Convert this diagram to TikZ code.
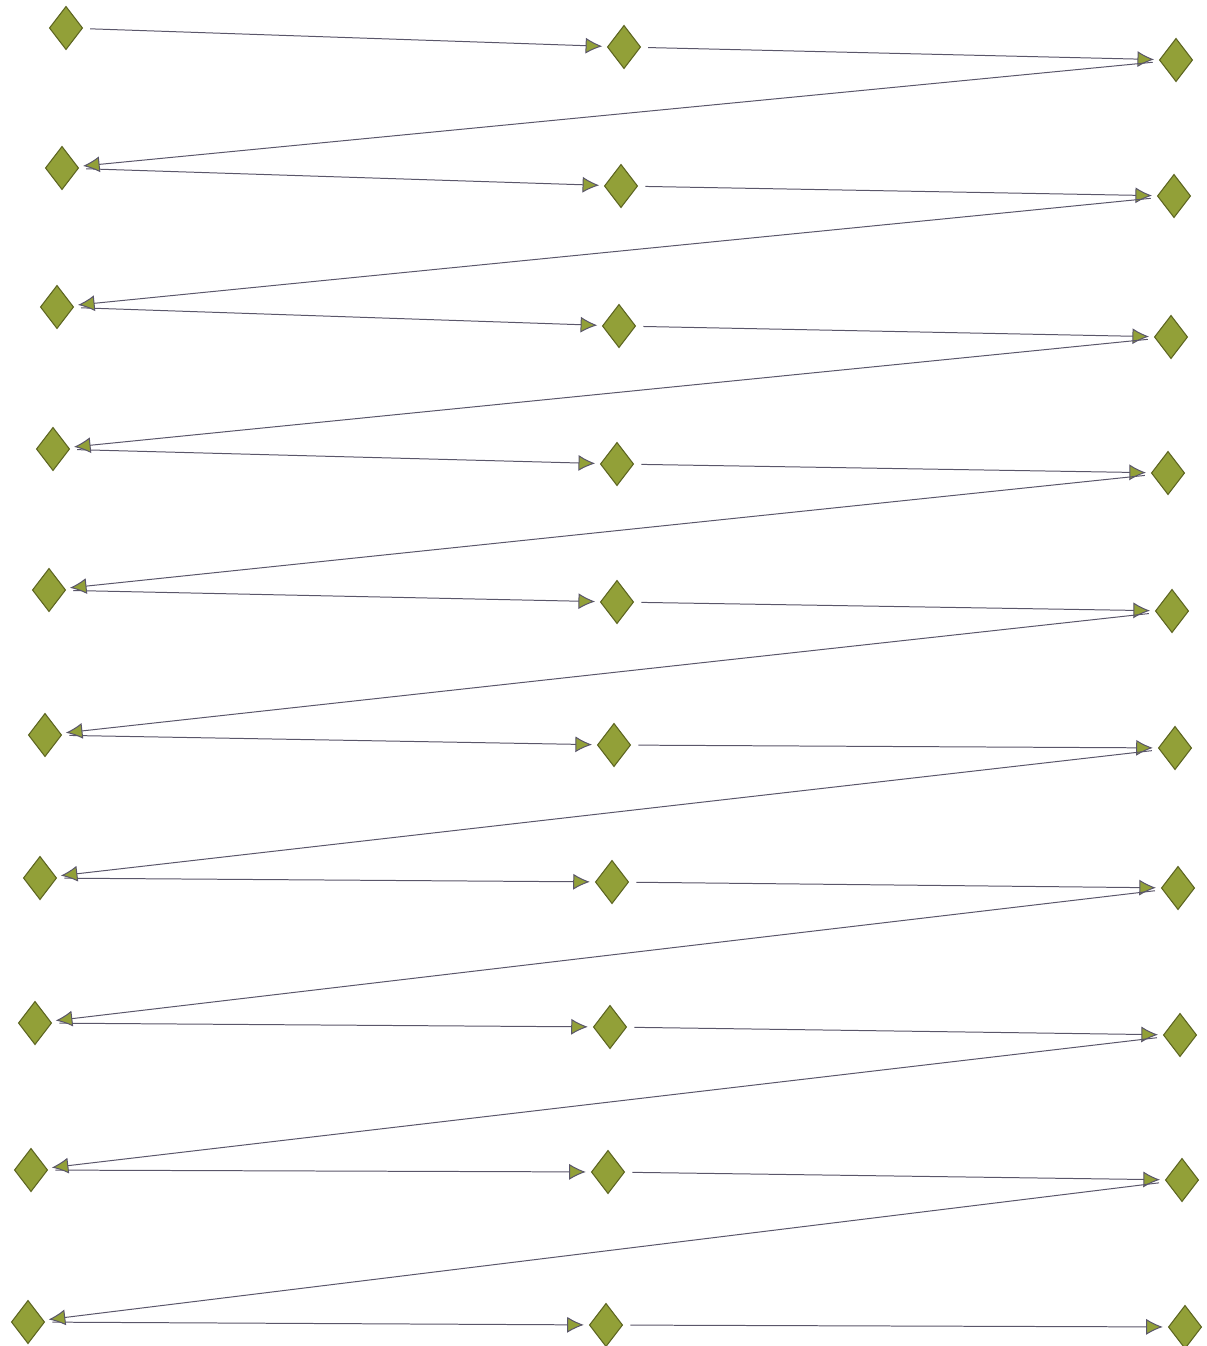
\documentclass[tikz,border=0pt]{standalone}
\usepackage{tikz}
\usetikzlibrary{shapes.geometric,arrows.meta}

\definecolor{olivefill}{RGB}{146,160,56}
\definecolor{olivedraw}{RGB}{92,100,32}
\definecolor{edgegray}{RGB}{90,86,106}

\begin{document}
\begin{tikzpicture}[
    x=0.03cm, y=-0.03cm,
    state/.style={diamond, draw=olivedraw, fill=olivefill, line width=0.9pt, minimum width=1.0cm, minimum height=1.3cm, inner sep=0pt},
    arrow/.style={-{Latex[length=0.5cm,width=0.48cm,fill=olivefill]}, draw=edgegray, line width=0.85pt, shorten <=0.22cm, shorten >=0.15cm}
    ]

    \useasboundingbox (0,0) rectangle (1207,1346);

    % Fila 1
    \node[state] (l1) at (66,28) {};
    \node[state] (m1) at (624,47) {};
    \node[state] (r1) at (1176,60) {};

    % Fila 2
    \node[state] (l2) at (62,168) {};
    \node[state] (m2) at (621,186) {};
    \node[state] (r2) at (1174,196) {};

    % Fila 3
    \node[state] (l3) at (57,307) {};
    \node[state] (m3) at (619,326) {};
    \node[state] (r3) at (1171,337) {};

    % Fila 4
    \node[state] (l4) at (53,449) {};
    \node[state] (m4) at (617,464) {};
    \node[state] (r4) at (1168,473) {};

    % Fila 5
    \node[state] (l5) at (49,590) {};
    \node[state] (m5) at (617,602) {};
    \node[state] (r5) at (1172,611) {};

    % Fila 6
    \node[state] (l6) at (45,735) {};
    \node[state] (m6) at (614,745) {};
    \node[state] (r6) at (1175,748) {};

    % Fila 7
    \node[state] (l7) at (40,878) {};
    \node[state] (m7) at (612,882) {};
    \node[state] (r7) at (1178,888) {};

    % Fila 8
    \node[state] (l8) at (35,1023) {};
    \node[state] (m8) at (610,1027) {};
    \node[state] (r8) at (1180,1035) {};

    % Fila 9
    \node[state] (l9) at (31,1170) {};
    \node[state] (m9) at (608,1172) {};
    \node[state] (r9) at (1182,1180) {};

    % Fila 10
    \node[state] (l10) at (28,1322) {};
    \node[state] (m10) at (606,1325) {};
    \node[state] (r10) at (1185,1327) {};

    % Flechas dentro de cada fila
    \draw[arrow] (l1) -- (m1);
    \draw[arrow] (m1) -- (r1);
    \draw[arrow] (l2) -- (m2);
    \draw[arrow] (m2) -- (r2);
    \draw[arrow] (l3) -- (m3);
    \draw[arrow] (m3) -- (r3);
    \draw[arrow] (l4) -- (m4);
    \draw[arrow] (m4) -- (r4);
    \draw[arrow] (l5) -- (m5);
    \draw[arrow] (m5) -- (r5);
    \draw[arrow] (l6) -- (m6);
    \draw[arrow] (m6) -- (r6);
    \draw[arrow] (l7) -- (m7);
    \draw[arrow] (m7) -- (r7);
    \draw[arrow] (l8) -- (m8);
    \draw[arrow] (m8) -- (r8);
    \draw[arrow] (l9) -- (m9);
    \draw[arrow] (m9) -- (r9);
    \draw[arrow] (l10) -- (m10);
    \draw[arrow] (m10) -- (r10);

    % Flechas de retorno a la fila siguiente
    \draw[arrow] (r1) -- (l2);
    \draw[arrow] (r2) -- (l3);
    \draw[arrow] (r3) -- (l4);
    \draw[arrow] (r4) -- (l5);
    \draw[arrow] (r5) -- (l6);
    \draw[arrow] (r6) -- (l7);
    \draw[arrow] (r7) -- (l8);
    \draw[arrow] (r8) -- (l9);
    \draw[arrow] (r9) -- (l10);

\end{tikzpicture}
\end{document}
